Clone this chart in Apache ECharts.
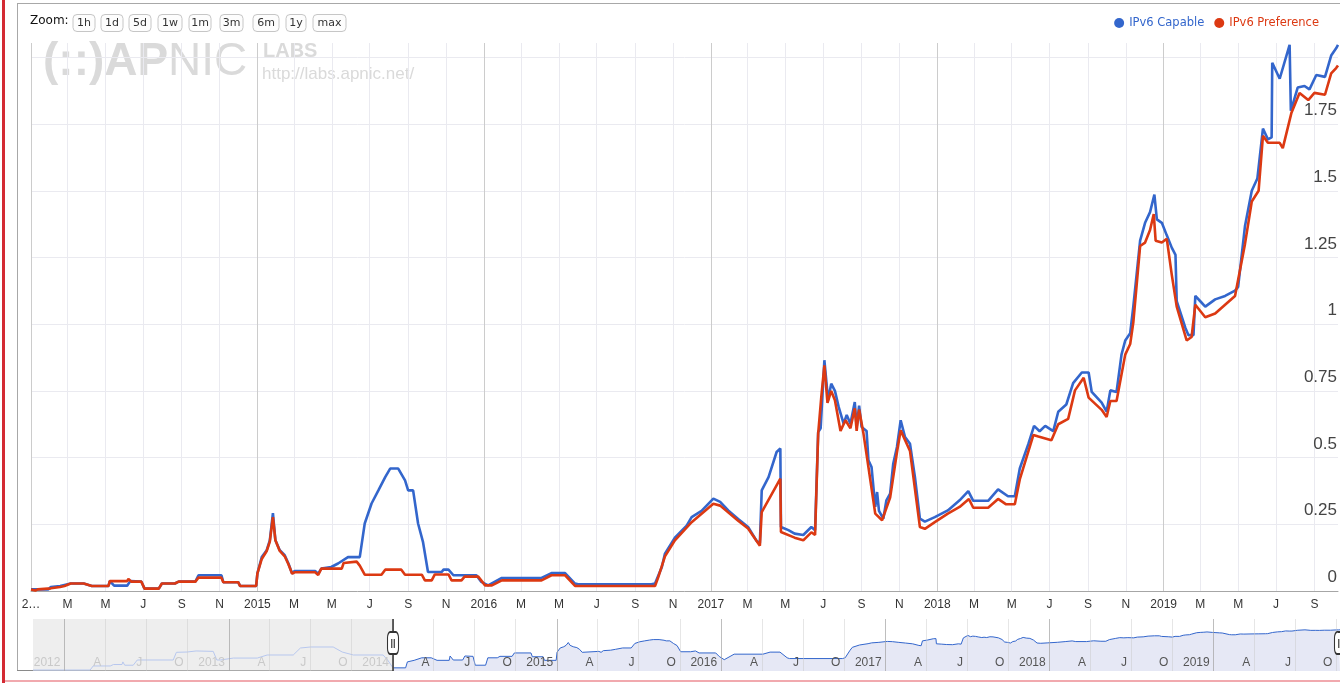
<!DOCTYPE html>
<html>
<head>
<meta charset="utf-8">
<title>IPv6 Capable / IPv6 Preference</title>
<script src="https://cdn.jsdelivr.net/npm/echarts@6/dist/echarts.min.js"></script>
<style>
  html, body { margin: 0; padding: 0; background: #fff; }
  #chart { width: 1340px; height: 683px; }
</style>
</head>
<body>
<div id="chart"></div>
<script>
// weekly-ish readings, percent of users
var capable = [
  ['2014-01-01',0.006],['2014-01-29',0.006],['2014-02-02',0.015],['2014-02-17',0.019],['2014-03-06',0.028],
  ['2014-03-27',0.028],['2014-03-30',0.035],['2014-04-09',0.019],['2014-05-06',0.019],['2014-05-08',0.037],
  ['2014-05-15',0.02],['2014-06-05',0.02],['2014-06-10',0.037],['2014-06-28',0.035],['2014-07-03',0.009],
  ['2014-07-26',0.009],['2014-07-31',0.028],['2014-08-21',0.028],['2014-08-27',0.035],['2014-09-23',0.035],
  ['2014-09-28',0.059],['2014-11-04',0.059],['2014-11-07',0.033],['2014-12-01',0.033],['2014-12-04',0.019],
  ['2014-12-30',0.019],['2015-01-01',0.066],['2015-01-08',0.127],['2015-01-16',0.153],['2015-01-21',0.19],
  ['2015-01-26',0.292],['2015-01-30',0.19],['2015-02-06',0.153],['2015-02-14',0.134],['2015-02-20',0.103],
  ['2015-02-26',0.065],['2015-03-02',0.075],['2015-04-04',0.075],['2015-04-09',0.065],['2015-04-14',0.084],
  ['2015-04-30',0.09],['2015-05-11',0.103],['2015-05-27',0.127],['2015-06-15',0.127],['2015-06-23',0.253],
  ['2015-07-04',0.328],['2015-07-15',0.377],['2015-07-26',0.427],['2015-08-03',0.459],['2015-08-16',0.459],
  ['2015-08-27',0.415],['2015-09-01',0.377],['2015-09-09',0.377],['2015-09-17',0.253],['2015-09-25',0.183],
  ['2015-10-03',0.071],['2015-10-25',0.071],['2015-10-28',0.08],['2015-11-05',0.08],['2015-11-13',0.059],
  ['2015-12-20',0.059],['2015-12-28',0.034],['2016-01-08',0.021],['2016-01-30',0.049],['2016-04-03',0.049],
  ['2016-04-19',0.067],['2016-05-11',0.067],['2016-05-27',0.028],['2016-06-01',0.025],['2016-09-27',0.025],
  ['2016-10-03',0.028],['2016-10-14',0.09],['2016-10-19',0.14],['2016-11-04',0.2],['2016-11-23',0.245],
  ['2016-12-01',0.277],['2016-12-17',0.30],['2016-12-31',0.334],['2017-01-05',0.346],['2017-01-16',0.334],
  ['2017-01-29',0.302],['2017-02-14',0.27],['2017-03-02',0.24],['2017-03-16',0.187],['2017-03-21',0.179],
  ['2017-03-24',0.377],['2017-04-04',0.427],['2017-04-17',0.521],['2017-04-23',0.534],['2017-04-24',0.24],
  ['2017-05-06',0.228],['2017-05-16',0.215],['2017-05-30',0.21],['2017-06-12',0.24],['2017-06-18',0.228],
  ['2017-06-23',0.596],['2017-06-27',0.61],['2017-07-03',0.865],['2017-07-09',0.715],['2017-07-14',0.777],
  ['2017-07-20',0.75],['2017-07-26',0.69],['2017-08-03',0.627],['2017-08-08',0.66],['2017-08-14',0.627],
  ['2017-08-21',0.708],['2017-08-24',0.614],['2017-08-28',0.695],['2017-09-01',0.615],['2017-09-09',0.6],
  ['2017-09-12',0.49],['2017-09-17',0.465],['2017-09-23',0.315],['2017-09-26',0.371],['2017-09-29',0.30],
  ['2017-10-06',0.271],['2017-10-11',0.34],['2017-10-17',0.365],['2017-10-22',0.477],['2017-10-28',0.54],
  ['2017-11-03',0.64],['2017-11-10',0.577],['2017-11-18',0.552],['2017-11-26',0.427],['2017-12-04',0.271],
  ['2017-12-12',0.26],['2017-12-28',0.277],['2018-01-18',0.302],['2018-02-06',0.34],['2018-02-20',0.374],
  ['2018-02-28',0.338],['2018-03-24',0.338],['2018-04-09',0.381],['2018-04-25',0.355],['2018-05-06',0.355],
  ['2018-05-14',0.459],['2018-05-28',0.552],['2018-06-06',0.619],['2018-06-15',0.599],['2018-06-24',0.619],
  ['2018-07-07',0.599],['2018-07-15',0.672],['2018-07-28',0.699],['2018-08-08',0.779],['2018-08-22',0.819],
  ['2018-09-02',0.819],['2018-09-07',0.746],['2018-09-23',0.706],['2018-10-01',0.672],['2018-10-07',0.752],
  ['2018-10-17',0.746],['2018-10-25',0.886],['2018-10-31',0.939],['2018-11-08',0.966],['2018-11-13',1.066],
  ['2018-11-24',1.313],['2018-12-02',1.38],['2018-12-10',1.42],['2018-12-17',1.486],['2018-12-21',1.393],
  ['2018-12-29',1.38],['2019-01-06',1.333],['2019-01-14',1.287],['2019-01-20',1.26],['2019-01-22',1.086],
  ['2019-02-05',0.986],['2019-02-10',0.959],['2019-02-18',0.959],['2019-02-21',1.106],['2019-03-01',1.086],
  ['2019-03-09',1.066],['2019-03-25',1.093],['2019-04-10',1.106],['2019-04-26',1.126],['2019-05-01',1.14],
  ['2019-05-12',1.367],['2019-05-23',1.5],['2019-06-01',1.546],['2019-06-10',1.733],['2019-06-18',1.693],
  ['2019-06-24',1.7],['2019-06-25',1.98],['2019-07-07',1.92],['2019-07-23',2.047],['2019-07-25',1.8],
  ['2019-08-05',1.887],['2019-08-16',1.893],['2019-08-24',1.88],['2019-09-04',1.934],['2019-09-18',1.927],
  ['2019-09-28',2.007],['2019-10-06',2.034],['2019-10-09',2.047]
];

var preference = [
  ['2014-01-01',0.006],['2014-01-08',0.002],['2014-01-12',0.006],['2014-02-02',0.01],['2014-02-17',0.015],
  ['2014-02-24',0.019],['2014-03-06',0.028],['2014-03-27',0.028],['2014-03-30',0.035],['2014-04-09',0.019],
  ['2014-05-06',0.019],['2014-05-08',0.037],['2014-06-05',0.037],['2014-06-07',0.045],['2014-06-12',0.035],
  ['2014-06-28',0.035],['2014-07-03',0.009],['2014-07-26',0.009],['2014-07-31',0.028],['2014-08-21',0.028],
  ['2014-08-27',0.035],['2014-09-23',0.035],['2014-09-28',0.05],['2014-11-04',0.05],['2014-11-07',0.033],
  ['2014-12-01',0.033],['2014-12-04',0.019],['2014-12-30',0.019],['2015-01-01',0.066],['2015-01-08',0.12],
  ['2015-01-16',0.15],['2015-01-21',0.185],['2015-01-26',0.277],['2015-01-30',0.19],['2015-02-06',0.15],
  ['2015-02-14',0.13],['2015-02-20',0.1],['2015-02-26',0.065],['2015-03-02',0.07],['2015-04-04',0.07],
  ['2015-04-09',0.06],['2015-04-14',0.084],['2015-05-17',0.084],['2015-05-20',0.105],['2015-06-10',0.11],
  ['2015-06-15',0.095],['2015-06-23',0.061],['2015-07-20',0.061],['2015-07-26',0.08],['2015-08-21',0.08],
  ['2015-08-27',0.061],['2015-09-23',0.061],['2015-09-28',0.04],['2015-10-09',0.04],['2015-10-14',0.062],
  ['2015-11-05',0.062],['2015-11-10',0.04],['2015-11-26',0.04],['2015-12-01',0.054],['2015-12-23',0.054],
  ['2016-01-03',0.021],['2016-01-14',0.021],['2016-01-30',0.04],['2016-04-03',0.04],['2016-04-19',0.059],
  ['2016-05-11',0.059],['2016-05-27',0.019],['2016-10-03',0.019],['2016-10-08',0.05],['2016-10-19',0.13],
  ['2016-11-04',0.19],['2016-12-01',0.258],['2017-01-05',0.327],['2017-01-16',0.32],['2017-02-14',0.263],
  ['2017-03-02',0.234],['2017-03-21',0.17],['2017-03-24',0.296],['2017-04-23',0.421],['2017-04-24',0.221],
  ['2017-05-16',0.2],['2017-05-30',0.19],['2017-06-12',0.22],['2017-06-18',0.21],['2017-06-23',0.59],
  ['2017-06-28',0.727],['2017-07-03',0.846],['2017-07-08',0.705],['2017-07-14',0.75],['2017-07-20',0.715],
  ['2017-07-29',0.6],['2017-08-06',0.64],['2017-08-14',0.61],['2017-08-21',0.685],['2017-08-24',0.6],
  ['2017-08-28',0.68],['2017-09-04',0.59],['2017-09-12',0.465],['2017-09-23',0.29],['2017-10-04',0.265],
  ['2017-10-17',0.35],['2017-10-28',0.52],['2017-11-03',0.602],['2017-11-18',0.525],['2017-12-04',0.24],
  ['2017-12-12',0.233],['2017-12-28',0.258],['2018-01-18',0.29],['2018-02-06',0.315],['2018-02-21',0.345],
  ['2018-02-28',0.312],['2018-03-24',0.312],['2018-04-09',0.345],['2018-04-22',0.325],['2018-05-06',0.325],
  ['2018-05-14',0.418],['2018-06-05',0.585],['2018-06-13',0.579],['2018-07-04',0.565],['2018-07-15',0.625],
  ['2018-07-31',0.645],['2018-08-11',0.752],['2018-08-25',0.799],['2018-09-02',0.725],['2018-09-23',0.679],
  ['2018-10-01',0.652],['2018-10-07',0.712],['2018-10-17',0.712],['2018-10-31',0.886],['2018-11-08',0.926],
  ['2018-11-13',1.006],['2018-11-24',1.293],['2018-12-02',1.306],['2018-12-10',1.353],['2018-12-16',1.413],
  ['2018-12-19',1.313],['2018-12-29',1.306],['2019-01-06',1.32],['2019-01-14',1.186],['2019-01-22',1.066],
  ['2019-02-07',0.939],['2019-02-15',0.952],['2019-02-21',1.073],['2019-03-09',1.026],['2019-03-25',1.04],
  ['2019-04-10',1.073],['2019-04-26',1.106],['2019-05-12',1.3],['2019-05-23',1.46],['2019-06-03',1.5],
  ['2019-06-10',1.706],['2019-06-18',1.68],['2019-07-07',1.68],['2019-07-12',1.66],['2019-07-26',1.793],
  ['2019-08-08',1.867],['2019-08-22',1.84],['2019-09-01',1.867],['2019-09-18',1.86],['2019-09-28',1.94],
  ['2019-10-06',1.96],['2019-10-09',1.97]
];

// older "capable" history, only shown in the navigator strip
var capableHistory = [
  ['2011-10-23',0.0043],['2012-02-27',0.0043],['2012-03-05',0.008],['2012-04-12',0.008],['2012-04-19',0.01],
  ['2012-05-08',0.01],['2012-05-10',0.015],['2012-05-14',0.009],['2012-06-02',0.009],['2012-06-11',0.02],
  ['2012-08-30',0.02],['2012-09-06',0.065],['2012-09-30',0.068],['2012-10-20',0.08],['2012-11-27',0.075],
  ['2012-12-05',0.02],['2012-12-13',0.02],['2013-01-11',0.027],['2013-03-05',0.027],['2013-03-27',0.043],
  ['2013-05-24',0.043],['2013-06-09',0.126],['2013-07-01',0.147],['2013-08-21',0.147],['2013-09-10',0.068],
  ['2013-10-05',0.043],['2013-12-10',0.043],['2013-12-20',0.02]
];

var monthLetters = ['J','F','M','A','M','J','J','A','S','O','N','D'];
var yTicks = [0, 0.25, 0.5, 0.75, 1, 1.25, 1.5, 1.75, 2];
var yLabels = [0, 0.25, 0.5, 0.75, 1, 1.25, 1.5, 1.75];
var zoomButtons = ['1h','1d','5d','1w','1m','3m','6m','1y','max'];

var viewStart = '2014-01-01';
var viewEnd = '2019-10-09';
var navStart = '2011-10-23';

// dates go on a plain numeric axis as timestamps
function ts(s) { return +new Date(s + 'T00:00:00'); }
function toPoints(rows) { return rows.map(function (r) { return [ts(r[0]), r[1]]; }); }

function pad(n) { return n < 10 ? '0' + n : '' + n; }
function monthTicks(y0, m0, y1, m1, step) {
    var out = [];
    var y = y0, m = m0;
    while (y < y1 || (y === y1 && m <= m1)) {
        out.push(ts(y + '-' + pad(m + 1) + '-01'));
        m += step;
        while (m > 11) { m -= 12; y += 1; }
    }
    return out;
}

var mainTicks = monthTicks(2014, 0, 2019, 9, 2);
var mainYears = monthTicks(2014, 0, 2019, 9, 12);
var navTicks = monthTicks(2012, 0, 2019, 9, 3);
var navYears = monthTicks(2012, 0, 2019, 9, 12);

var t0 = ts(viewStart), t1 = ts(viewEnd), tNav = ts(navStart);

function tickLabel(v) {
    var d = new Date(v);
    var m = d.getMonth();
    if (m === 0) {
        if (v <= t0) return '2\u2026';
        return String(d.getFullYear());
    }
    return monthLetters[m];
}
function navLabel(v) {
    var d = new Date(v);
    var m = d.getMonth();
    return m === 0 ? String(d.getFullYear()) : monthLetters[m];
}

var dom = document.getElementById('chart');
var myChart = echarts.init(dom, null, { renderer: 'canvas' });

var btnX = [73, 101, 129, 158, 189, 220, 253, 286, 313];
var btnW = [22, 22, 22, 24, 22, 23, 26, 20, 33];
var graphics = [
    { type: 'rect', shape: { x: 2, y: 0, width: 3, height: 683 }, style: { fill: '#d42a33' }, silent: true },
    { type: 'rect', shape: { x: 5, y: 680, width: 1335, height: 2 }, style: { fill: '#f1a9ae' }, silent: true },
    { type: 'rect', shape: { x: 17, y: 3, width: 1323, height: 1 }, style: { fill: '#a8a8a8' }, silent: true },
    { type: 'rect', shape: { x: 17, y: 3, width: 1, height: 668 }, style: { fill: '#a8a8a8' }, silent: true },
    { type: 'rect', shape: { x: 17, y: 670, width: 1323, height: 1 }, style: { fill: '#8a8a8a' }, silent: true },
    { type: 'text', x: 30, y: 21, silent: true,
      style: { text: 'Zoom:', font: '12px "DejaVu Sans"', fill: '#111',
               align: 'left', textAlign: 'left', verticalAlign: 'middle', textVerticalAlign: 'middle' } },
    // watermark
    { type: 'text', x: 43, y: 62, silent: true, z: -1,
      style: { text: '(::)AP', font: 'bold 46px "Liberation Sans"', fill: '#dadada',
               verticalAlign: 'middle', textVerticalAlign: 'middle' } },
    { type: 'text', x: 168, y: 62, silent: true, z: -1,
      style: { text: 'NIC', font: '46px "Liberation Sans"', fill: '#dadada',
               verticalAlign: 'middle', textVerticalAlign: 'middle' } },
    { type: 'text', x: 263, y: 51, silent: true, z: -1,
      style: { text: 'LABS', font: 'bold 20px "Liberation Sans"', fill: '#dadada',
               verticalAlign: 'middle', textVerticalAlign: 'middle' } },
    { type: 'text', x: 262, y: 74, silent: true, z: -1,
      style: { text: 'http://labs.apnic.net/', font: '17px "Liberation Sans"', fill: '#dadada',
               verticalAlign: 'middle', textVerticalAlign: 'middle' } }
];
zoomButtons.forEach(function (label, i) {
    graphics.push({
        type: 'group', x: btnX[i], y: 14.5, silent: true,
        children: [
            { type: 'rect', shape: { x: 0, y: 0, width: btnW[i], height: 17, r: 4 },
              style: { fill: '#fdfdfd', stroke: '#c6c6c6', lineWidth: 1 } },
            { type: 'text', x: btnW[i] / 2, y: 9,
              style: { text: label, font: '11px "DejaVu Sans"', fill: '#333',
                       align: 'center', textAlign: 'center',
                       verticalAlign: 'middle', textVerticalAlign: 'middle' } }
        ]
    });
});

var option = {
    animation: false,
    backgroundColor: '#fff',
    legend: {
        right: 16,
        top: 12,
        icon: 'circle',
        itemWidth: 10,
        itemHeight: 10,
        itemGap: 10,
        textStyle: { fontFamily: 'DejaVu Sans', fontSize: 11.5 },
        data: [
            { name: 'IPv6 Capable', textStyle: { color: '#3366cc' } },
            { name: 'IPv6 Preference', textStyle: { color: '#dc3912' } }
        ]
    },
    graphic: { elements: graphics },
    grid: [
        { left: 31, right: 0, top: 43, bottom: 92 },
        { left: 33, right: 0, top: 619, bottom: 12 }
    ],
    xAxis: [
        {
            type: 'value', gridIndex: 0, min: t0, max: t1,
            axisLine: { show: true, lineStyle: { color: '#a6a6a6', width: 1 } },
            axisTick: { show: false, customValues: mainTicks },
            axisLabel: {
                customValues: mainTicks, formatter: tickLabel,
                color: '#333', fontFamily: 'Liberation Sans', fontSize: 12, margin: 8
            },
            splitLine: { show: true, lineStyle: { color: '#eaeaf0', width: 1 } }
        },
        {
            // darker year boundaries
            type: 'value', gridIndex: 0, min: t0, max: t1, position: 'top',
            axisLine: { show: false },
            axisTick: { show: false, customValues: mainYears },
            axisLabel: { show: false },
            splitLine: { show: true, lineStyle: { color: '#cccccc', width: 1 } }
        },
        {
            // navigator axis sits above its area fill so labels stay readable
            type: 'value', gridIndex: 1, min: tNav, max: t1, z: 5,
            axisLine: { show: false },
            axisTick: { show: false, customValues: navTicks },
            axisLabel: {
                customValues: navTicks, formatter: navLabel, inside: true,
                align: 'right', padding: [0, 4, 0, 0], margin: 2,
                fontFamily: 'Liberation Sans', fontSize: 12,
                color: function (v) { return +v <= t0 ? '#c9c9c9' : '#555'; }
            },
            splitLine: { show: true, lineStyle: { color: 'rgba(200,200,200,0.45)', width: 1 } }
        },
        {
            type: 'value', gridIndex: 1, min: tNav, max: t1, position: 'top', z: 5,
            axisLine: { show: false },
            axisTick: { show: false, customValues: navYears },
            axisLabel: { show: false },
            splitLine: { show: true, lineStyle: { color: 'rgba(150,150,150,0.5)', width: 1 } }
        }
    ],
    yAxis: [
        {
            type: 'value', gridIndex: 0, position: 'right', min: 0, max: 2.054,
            axisLine: { show: false },
            axisTick: { show: false, customValues: yTicks },
            axisLabel: {
                customValues: yLabels, inside: true, margin: 1,
                color: '#444', fontFamily: 'Liberation Sans', fontSize: 17,
                verticalAlign: 'bottom', padding: [0, 0, 5, 0]
            },
            splitLine: { show: true, lineStyle: { color: '#eaeaf0', width: 1 } }
        },
        {
            type: 'log', gridIndex: 1, min: 0.0037, max: 10.8, logBase: 10,
            axisLine: { show: false }, axisTick: { show: false },
            axisLabel: { show: false }, splitLine: { show: false }
        }
    ],
    series: [
        {
            name: 'IPv6 Capable', type: 'line', xAxisIndex: 0, yAxisIndex: 0,
            data: toPoints(capable), showSymbol: false, symbol: 'none',
            color: '#3366cc', lineStyle: { width: 2.6 }, z: 3
        },
        {
            name: 'IPv6 Preference', type: 'line', xAxisIndex: 0, yAxisIndex: 0,
            data: toPoints(preference), showSymbol: false, symbol: 'none',
            color: '#dc3912', lineStyle: { width: 2.6 }, z: 4
        },
        {
            name: 'nav-history', type: 'line', xAxisIndex: 2, yAxisIndex: 1,
            data: toPoints(capableHistory.concat([capable[0]])), symbol: 'none',
            color: '#b7c7ee', lineStyle: { width: 1 }, silent: true,
            markArea: {
                silent: true,
                itemStyle: { color: 'rgba(214,214,214,0.42)' },
                data: [[{ xAxis: tNav }, { xAxis: t0 }]]
            }
        },
        {
            name: 'nav-range', type: 'line', xAxisIndex: 2, yAxisIndex: 1,
            data: toPoints(capable), symbol: 'none', silent: true,
            color: '#3366cc', lineStyle: { width: 1 },
            areaStyle: { color: '#e6e8f5', opacity: 1, origin: 'start' },
            markLine: {
                silent: true, symbol: ['none', 'none'],
                label: { show: false },
                lineStyle: { color: '#333', width: 1.5, type: 'solid' },
                data: [{ xAxis: t0 }]
            },
            markPoint: {
                silent: true, symbol: 'roundRect', symbolSize: [11, 22],
                itemStyle: { color: '#fff', borderColor: '#333', borderWidth: 1.5 },
                label: { show: true, position: 'inside', formatter: '||', color: '#333', fontSize: 9, fontWeight: 'bold' },
                data: [{ coord: [t0, 0.27] }, { coord: [t1, 0.27] }]
            }
        }
    ]
};

if (option && typeof option === 'object') {
    myChart.setOption(option);
}

window.addEventListener('resize', myChart.resize);
</script>
</body>
</html>
